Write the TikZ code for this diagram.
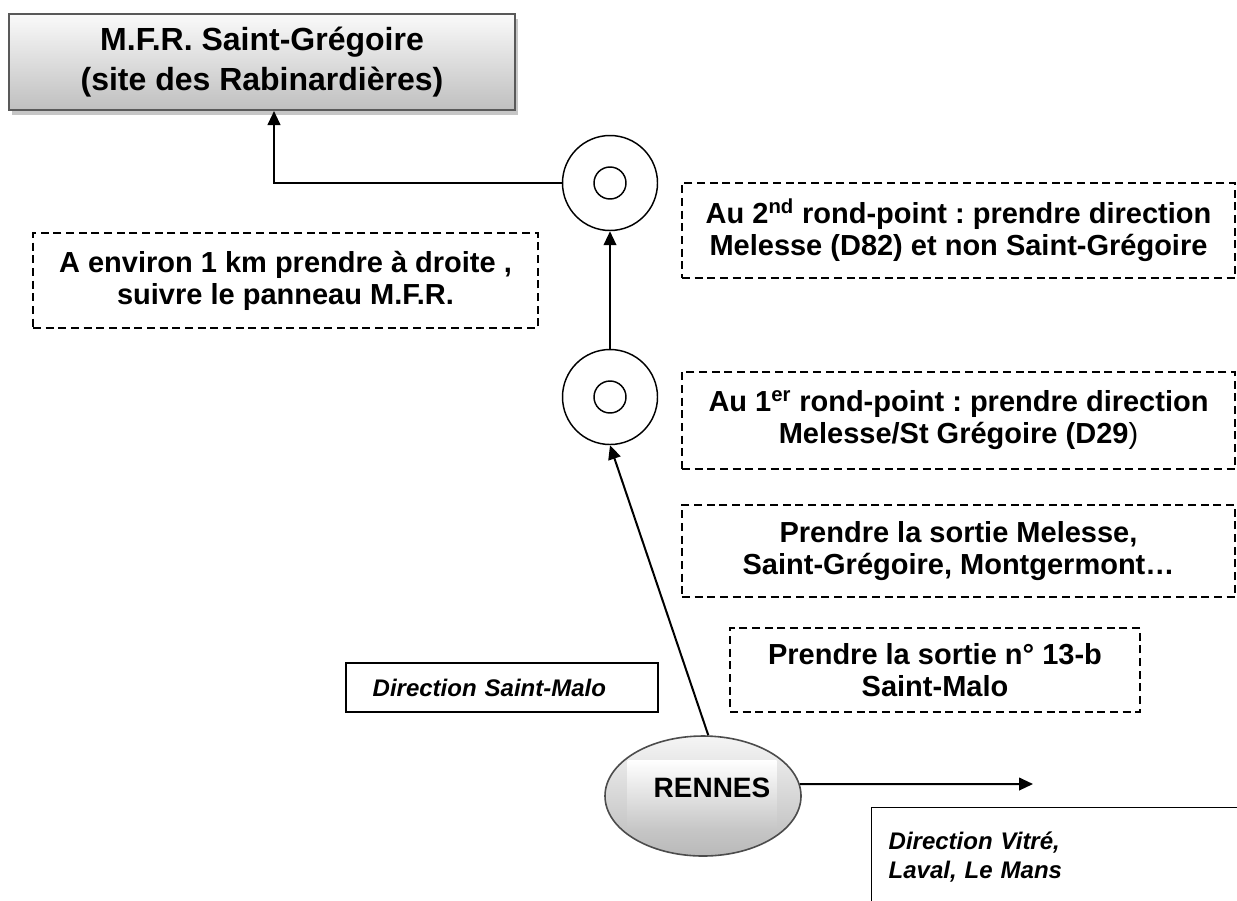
\documentclass[tikz,border=0pt]{standalone}
\usepackage{fontspec}
\setmainfont{Liberation Sans}
\usepackage{tikz}
\usetikzlibrary{shapes.geometric, arrows.meta, positioning, shadows}
\frenchspacing

\begin{document}
\begin{tikzpicture}[
    x=0.75pt, y=-0.75pt,
    consigne/.style = {draw, dash pattern=on 6pt off 3.5pt, line width=1pt, inner sep=0pt, align=center, font=\fontsize{21.75pt}{24pt}\selectfont\bfseries},
    direction/.style = {draw, line width=1pt, inner sep=0pt, font=\fontsize{18pt}{21.75pt}\selectfont\bfseries\itshape},
    titre/.style = {draw=gray!70!black, line width=1.5pt, top color=gray!4, bottom color=gray!50, minimum width=379.5pt, minimum height=72pt, inner sep=0pt, align=center, font=\fontsize{24pt}{30pt}\selectfont\bfseries, drop shadow={shadow xshift=2.5pt, shadow yshift=-4pt, fill=gray!45, opacity=1}},
    rondpoint/.style = {circle, draw, line width=1.1pt, minimum size=71.25pt, inner sep=0pt},
    ilot/.style = {circle, draw, line width=1.1pt, minimum size=24pt, inner sep=0pt},
    ville/.style = {ellipse, draw=gray!60!black, line width=1.2pt, top color=gray!8, bottom color=gray!55, minimum width=147pt, minimum height=90pt, inner sep=0pt},
    reflet/.style = {rectangle, top color=white, bottom color=gray!45, minimum width=111.75pt, minimum height=52.5pt, inner sep=0pt},
    fleche/.style = {line width=1.5pt, -{Triangle[length=10.5pt, width=9.5pt]}}
]
\useasboundingbox (0,0) rectangle (1237,900);
% Destination
\node[titre] (mfr) at (262,62) {M.F.R. Saint-Grégoire\\(site des Rabinardières)};
% Ronds-points
\node[rondpoint] (rp2) at (610,183) {};
\node[ilot] (ilot2) at (rp2) {};
\node[rondpoint] (rp1) at (610,397) {};
\node[ilot] (ilot1) at (rp1) {};
% Rennes
\node[ville] (rennes) at (703,796) {};
\node[reflet] (reflet) at (702,795) {};
\node[font=\fontsize{21pt}{24pt}\selectfont\bfseries] (rennestxt) at (712,788) {RENNES};
\coordinate (vitrefin) at (1033,784);
% Consignes
\node[consigne, minimum width=378.75pt, minimum height=71.25pt] (km) at (285.5,280.5) {A environ 1 km prendre à droite ,\\suivre le panneau M.F.R.};
\node[consigne, minimum width=414.75pt, minimum height=71.25pt] (rpsecond) at (958.5,230.5) {Au 2\textsuperscript{nd} rond-point : prendre direction\\Melesse (D82) et non Saint-Grégoire};
\node[consigne, minimum width=414.75pt, minimum height=72.75pt] (rppremier) at (958.5,420.5) {Au 1\textsuperscript{er} rond-point : prendre direction\\Melesse/St Grégoire (D29\textmd{)}};
\node[consigne, minimum width=414.75pt, minimum height=69pt] (sortie) at (958.5,551) {Prendre la sortie Melesse,\\Saint-Grégoire, Montgermont…};
\node[consigne, minimum width=307.5pt, minimum height=63pt] (sortienum) at (935,670) {Prendre la sortie n° 13-b\\Saint-Malo};
% Directions
\node[direction, inner xsep=20pt, text width=194pt, minimum height=36.75pt, align=left] (stmalo) at (502,687.5) {Direction Saint-Malo};
\node[direction, anchor=north west, inner xsep=12.75pt, text width=274.5pt, minimum height=73.5pt, align=left] (vitre) at (871,807) {Direction Vitré,\\Laval, Le Mans};
% Routes
\draw[fleche] (rennes.85) -- (rp1.south);
\draw[fleche] (rp1.north) -- (rp2.south);
\draw[fleche] (rp2.west) -| ([xshift=9pt]mfr.south);
\draw[fleche] (rennes.7) -- (vitrefin);
\end{tikzpicture}
\end{document}
